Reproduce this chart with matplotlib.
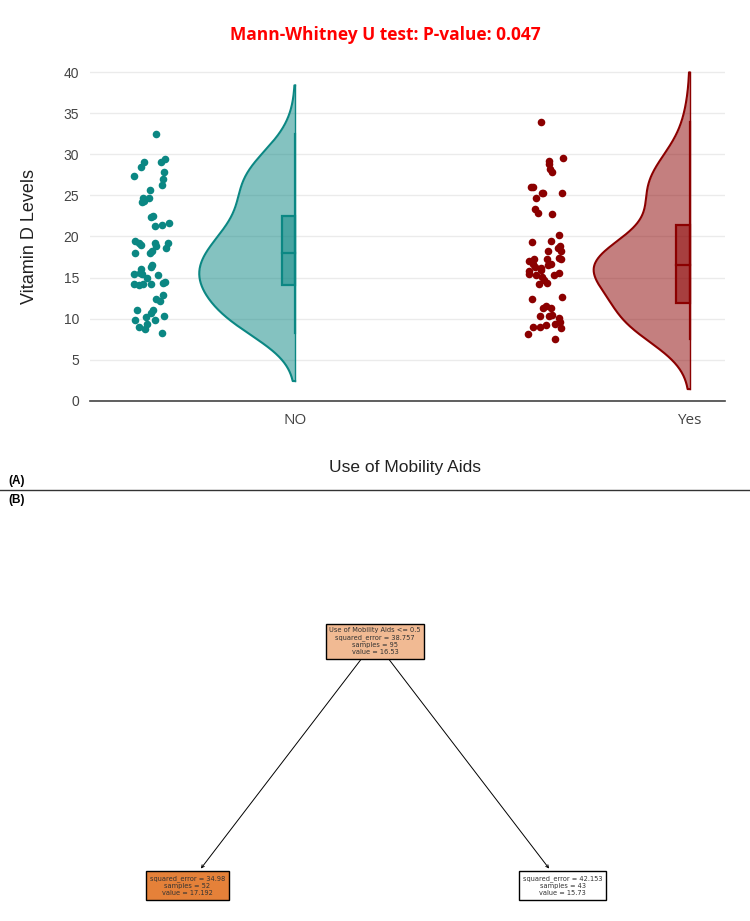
# raincloud plot of vitamin D by mobility aid use (A) + small regression tree (B)

import numpy as np
import matplotlib
matplotlib.use('Agg')
from matplotlib import pyplot as plt
from matplotlib.lines import Line2D
from matplotlib.patches import Rectangle


### DATA
categories = ['NO', 'Yes']

no_values = [32.5, 29.4, 29.0, 28.4, 29.0, 27.9, 27.3, 27.0, 26.3, 25.7,
             24.3, 24.7, 24.2, 24.7, 22.4, 22.5, 21.6, 21.4, 21.3,
             19.2, 19.0, 19.2, 19.2, 19.4, 18.0, 18.2, 18.0, 18.6, 18.8,
             16.5, 16.3, 15.4, 15.5, 15.6, 15.3, 16.0, 15.0, 14.2, 14.3, 14.1, 14.2, 14.5, 14.2,
             12.9, 12.4, 12.2, 11.1, 11.1, 10.7, 10.3, 10.2, 9.9, 9.8,
             9.4, 8.7, 9.0, 8.3]

yes_values = [33.9, 29.5, 28.8, 29.2, 28.2, 27.8, 26.0, 25.3, 24.7, 25.3,
              26.0, 25.3, 23.3, 22.7, 22.9, 20.2,
              19.4, 19.3, 18.6, 18.2, 18.9, 18.2, 16.6, 16.3, 17.3, 17.3,
              17.3, 17.4, 16.7, 16.5, 15.9, 15.1, 15.3, 15.5, 15.6, 14.7,
              14.3, 14.2, 15.3, 15.8, 16.2, 17.0, 12.4, 12.6, 11.3, 11.3, 11.5,
              10.1, 10.3, 10.3, 10.4, 9.0, 9.2, 9.4, 9.6, 9.0, 8.9, 8.2, 7.5]

p_value = 0.047

# decision tree nodes: root, left, right
tree_feature = 'Use of Mobility Aids'
tree_threshold = 0.5
tree_mse = [38.757, 34.98, 42.153]
tree_samples = [95, 52, 43]
tree_value = [16.53, 17.192, 15.73]
tree_depth = [0, 1, 1]
tree_leaf_index = [None, 0, 1]

colors = ['#0b8783', '#8b0000']

W, H = 750, 921
fig = plt.figure(figsize=(W / 100, H / 100), dpi=100)


def kde(vals):
    vals = np.asarray(vals)
    q1, q3 = np.percentile(vals, [25, 75])
    bw = 1.059 * min(vals.std(ddof=1), (q3 - q1) / 1.349) * len(vals) ** -0.2
    ys = np.linspace(vals.min() - 2 * bw, vals.max() + 2 * bw, 400)
    dens = np.exp(-0.5 * ((ys[:, None] - vals[None, :]) / bw) ** 2).sum(axis=1)
    return ys, dens / dens.max()


### PANEL A
top = 1 - (72 - 0.5 * 8.225) / H
bot = 1 - 401 / H
ax = fig.add_axes([90 / W, bot, 635 / W, top - bot])
ax.set_ylim(0, 40.5)
ax.set_xlim(-0.52, 1.09)

half_w = 0.243
box_w = 0.033
rng = np.random.default_rng(7)

for i, (vals, col) in enumerate(zip([no_values, yes_values], colors)):
    vals = np.asarray(vals)
    ys, d = kde(vals)
    xs = i - half_w * d
    ax.fill_betweenx(ys, xs, i, color=col, alpha=0.5, lw=0, zorder=2)
    ax.plot(np.r_[i, xs, i], np.r_[ys[0], ys, ys[-1]], color=col, lw=1.5, zorder=3)
    ax.plot([i, i], [ys[0], ys[-1]], color=col, lw=1.0, zorder=3)

    # box inside the violin
    q1, med, q3 = np.percentile(vals, [25, 50, 75])
    ax.plot([i, i], [vals.min(), vals.max()], color=col, lw=1.6, zorder=4)
    ax.add_patch(Rectangle((i - box_w, q1), box_w, q3 - q1, facecolor=col,
                           alpha=0.5, lw=0, zorder=4))
    ax.add_patch(Rectangle((i - box_w, q1), box_w, q3 - q1, fill=False,
                           edgecolor=col, lw=1.6, zorder=5))
    ax.plot([i - box_w, i], [med, med], color=col, lw=1.6, zorder=5)

    # jittered points
    jit = rng.uniform(-0.045, 0.045, len(vals))
    ax.scatter(i - 0.365 + jit, vals, s=30, color=col, lw=0, zorder=5)

ax.set_yticks(np.arange(0, 41, 5))
ax.set_xticks([0, 1])
ax.set_xticklabels(categories, fontsize=11, color='#444444', family='Open Sans')
ax.tick_params(axis='x', length=0, pad=9)
ax.tick_params(axis='y', length=0, pad=8, labelsize=10, labelcolor='#444444')
for t in ax.get_yticklabels():
    t.set_family('Liberation Sans')
ax.grid(axis='y', color='#ebebeb', lw=1)
ax.set_axisbelow(True)
for s in ['top', 'right', 'left']:
    ax.spines[s].set_visible(False)
ax.spines['bottom'].set_color('#444444')
ax.spines['bottom'].set_linewidth(1.2)

fig.text(385 / W, 1 - 35 / H, f'Mann-Whitney U test: P-value: {p_value}',
         color='#ff0000', fontsize=12.5, fontweight='bold', family='Open Sans',
         ha='center', va='center')
fig.text(30 / W, 1 - 237 / H, 'Vitamin D Levels', rotation=90, fontsize=13,
         family='Liberation Sans', color='#222222', ha='center', va='center')
fig.text(405 / W, 1 - 467 / H, 'Use of Mobility Aids', fontsize=12.5,
         family='Liberation Sans', color='#222222', ha='center', va='center')

fig.text(8 / W, 1 - 481 / H, '(A)', fontsize=8.5, fontweight='bold',
         family='Liberation Sans', va='center')
fig.text(8 / W, 1 - 500 / H, '(B)', fontsize=8.5, fontweight='bold',
         family='Liberation Sans', va='center')
fig.add_artist(Line2D([0, 1], [1 - 490 / H, 1 - 490 / H], color='#333333', lw=1))


### PANEL B (tree)
ax2 = fig.add_axes([0, 0, 1, 1 - 495 / H])
ax2.set_xlim(0, 1)
ax2.set_ylim(0, 1)
ax2.axis('off')

vmin, vmax = min(tree_value), max(tree_value)
orange = np.array([229, 129, 57]) / 255.0

n_leaves = sum(1 for k in tree_leaf_index if k is not None)
pos = []
for d, k in zip(tree_depth, tree_leaf_index):
    y = 0.657 - d * 0.575
    x = 0.5 if k is None else (k + 0.5) / n_leaves
    pos.append((x, y))

texts = []
for n in range(len(tree_value)):
    lines = []
    if n == 0:
        lines.append(f'{tree_feature} <= {tree_threshold}')
    lines.append(f'squared_error = {tree_mse[n]}')
    lines.append(f'samples = {tree_samples[n]}')
    lines.append(f'value = {tree_value[n]}')
    texts.append('\n'.join(lines))


def node_color(v):
    a = (v - vmin) / (vmax - vmin)
    return tuple(1 - a * (1 - orange))


for n in range(len(tree_value)):
    bbox = dict(boxstyle='square,pad=0.55', fc=node_color(tree_value[n]), ec='black', lw=1.0)
    if n == 0:
        ax2.text(pos[n][0], pos[n][1], texts[n], ha='center', va='center',
                 fontsize=4.8, color='#333333', bbox=bbox, zorder=5, linespacing=1.2)
    else:
        ax2.annotate(texts[n], xy=pos[0], xytext=pos[n], ha='center', va='center',
                     fontsize=4.8, color='#333333', bbox=bbox, zorder=4, linespacing=1.2,
                     arrowprops=dict(arrowstyle='<-', color='black', lw=0.7))

fig.savefig('out.png', dpi=100)
